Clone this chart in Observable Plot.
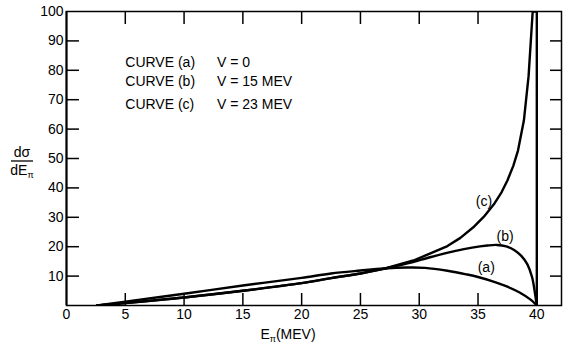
<!DOCTYPE html>
<html>
<head>
<meta charset="utf-8">
<script src="https://cdn.jsdelivr.net/npm/d3@7"></script>
<script src="https://cdn.jsdelivr.net/npm/@observablehq/plot@0.6"></script>
<style>
  html, body { margin: 0; padding: 0; background: #fff; }
  svg { display: block; }
</style>
</head>
<body>
<div id="chart"></div>
<script>
// Tick values
const xTickLabels = [0, 5, 10, 15, 20, 25, 30, 35, 40];
const xInnerTicks = [5, 10, 15, 20, 25, 30, 35];
const yTickLabels = [10, 20, 30, 40, 50, 60, 70, 80, 90, 100];
const yInnerTicks = [10, 20, 30, 40, 50, 60, 70, 80, 90];

// Curve (a): V = 0  [E_pi (MeV), dsigma/dE]
const curveA = [[2.6,0],[5,1.3],[10,4.0],[15,6.8],[20,9.4],[22.5,10.9],[25,11.9],[27,12.6],[29,12.9],[30.5,12.8],[32.4,11.8],[34,10.6],[35,9.7],[36.5,7.9],[37.5,6.4],[38.5,4.5],[39.5,1.9],[40,0]];
// Curve (b): V = 15 MeV
const curveB = [[2.6,0],[5,0.8],[10,2.7],[15,5.0],[20,7.6],[22.5,9.3],[25,10.9],[27.1,12.6],[29,14.3],[31,16.5],[33,18.5],[34.5,19.7],[35.8,20.4],[36.6,20.6],[37.4,20.1],[38.1,18.8],[38.7,16.8],[39.2,14.0],[39.6,9.6],[39.85,4.0],[40,0]];
// Curve (c): V = 23 MeV
const curveC = [[2.6,0],[5,0.8],[10,2.7],[15,5.0],[20,7.6],[22.5,9.3],[25,10.9],[27.1,12.6],[29.5,15.3],[31,17.8],[32.4,20.2],[33.5,23],[34.6,26.6],[35.5,30.2],[36.4,34.7],[37,38.5],[37.5,42.5],[38,47.5],[38.4,52.7],[38.9,62.9],[39.3,78],[39.65,100],[40,100],[40,0]];

const legendLines = ["CURVE (a)", "CURVE (b)", "CURVE (c)"];
const legendValues = ["V = 0", "V = 15 MEV", "V = 23 MEV"];
const curveNames = ["(a)", "(b)", "(c)"];

const W = 563, H = 343;
const mL = 66, mR = 2, mT = 11, mB = 38;
const innerW = W - mL - mR, innerH = H - mT - mB;
const font = "'Liberation Sans', Arial, sans-serif";

const legendData = legendLines.map((t, i) => ({t, v: legendValues[i], y: [82.6, 76.1, 68.4][i]}));
const curveLabelData = curveNames.map((t, i) => ({t, x: [35.7, 37.3, 35.5][i], y: [12.8, 23.6, 35.2][i]}));

const chart = Plot.plot({
  width: W, height: H,
  marginLeft: mL, marginRight: mR, marginTop: mT, marginBottom: mB,
  style: {fontFamily: font, fontSize: "14px", color: "#000", background: "#fff"},
  x: {domain: [0, 42.1]},
  y: {domain: [0, 100]},
  marks: [
    Plot.frame({stroke: "#000", strokeWidth: 1.5}),
    Plot.ruleX([0], {stroke: "#000", strokeWidth: 2}),
    Plot.axisX({ticks: xTickLabels, tickSize: 0, tickPadding: 4, fontSize: 14, label: null}),
    Plot.axisY({ticks: yTickLabels, tickSize: 0, tickPadding: 3, fontSize: 14, label: null}),
    Plot.tickX(xInnerTicks, {x: d => d, insetTop: innerH - 12, stroke: "#000", strokeWidth: 1.5}),
    Plot.tickX(xInnerTicks, {x: d => d, insetBottom: innerH - 13, stroke: "#000", strokeWidth: 1.5}),
    Plot.tickY(yInnerTicks, {y: d => d, insetRight: innerW - 13, stroke: "#000", strokeWidth: 1.5}),
    Plot.tickY(yInnerTicks, {y: d => d, insetLeft: innerW - 11, stroke: "#000", strokeWidth: 1.5}),
    Plot.line(curveA, {x: d => d[0], y: d => d[1], stroke: "#000", strokeWidth: 2.4, curve: "catmull-rom", clip: true}),
    Plot.line(curveB, {x: d => d[0], y: d => d[1], stroke: "#000", strokeWidth: 2.4, curve: "catmull-rom", clip: true}),
    Plot.line(curveC, {x: d => d[0], y: d => d[1], stroke: "#000", strokeWidth: 2.4, curve: "linear", clip: true}),
    Plot.text(legendData, {x: 5.0, y: "y", text: "t", textAnchor: "start", fontSize: 14, fill: "#000"}),
    Plot.text(legendData, {x: 12.8, y: "y", text: "v", textAnchor: "start", fontSize: 14, fill: "#000"}),
    Plot.text(curveLabelData, {x: "x", y: "y", text: "t", fontSize: 14, fill: "#000"})
  ]
});

const svg = d3.select(chart);
// x axis label E_pi(MEV)
const xl = svg.append("text")
  .attr("x", 288).attr("y", 339)
  .attr("text-anchor", "middle")
  .attr("font-family", font).attr("font-size", 14).attr("fill", "#000");
xl.append("tspan").text("E");
xl.append("tspan").attr("font-size", 9).attr("dy", 3).text("π");
xl.append("tspan").attr("dy", -3).text("(MEV)");

// y axis label dσ / dE_pi
const yl = svg.append("g").attr("font-family", font).attr("font-size", 14).attr("fill", "#000");
yl.append("text").attr("x", 22).attr("y", 157).attr("text-anchor", "middle").text("dσ");
yl.append("line").attr("x1", 11).attr("x2", 33).attr("y1", 161).attr("y2", 161).attr("stroke", "#000").attr("stroke-width", 1.3);
const yb = yl.append("text").attr("x", 22).attr("y", 175).attr("text-anchor", "middle");
yb.append("tspan").text("dE");
yb.append("tspan").attr("font-size", 9).attr("dy", 3).text("π");

document.getElementById("chart").appendChild(chart);
</script>
</body>
</html>
